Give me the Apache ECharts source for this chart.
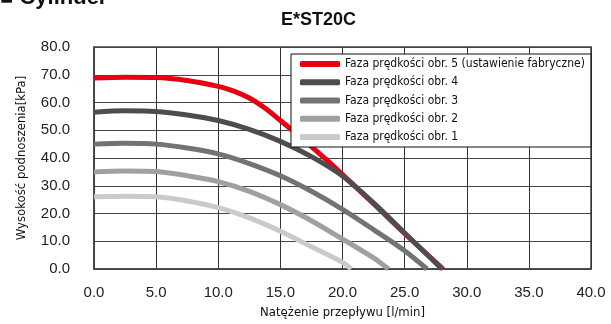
<!DOCTYPE html>
<html><head><meta charset="utf-8">
<script src="https://cdn.jsdelivr.net/npm/echarts@6/dist/echarts.min.js"></script>
<style>html,body{margin:0;padding:0;background:#fff}#c{width:611px;height:324px}</style>
</head><body><div id="c"></div>
<script>
const seriesNames = [
  'Faza prędkości obr. 5 (ustawienie fabryczne)',
  'Faza prędkości obr. 4',
  'Faza prędkości obr. 3',
  'Faza prędkości obr. 2',
  'Faza prędkości obr. 1'
];
const speed5 = [[0,68.8],[2.5,69.1],[5,69],[7.5,67.9],[10,65.8],[11.25,64.1],[12.5,61.6],[13.75,58.0],[15,53.5],[16.25,48.9],[17.5,44.1],[18.75,39.2],[20,34],[22.5,23.5],[25,12.8],[28.1,0]];
const speed4 = [[0,56.5],[2.5,57],[5,56.8],[7.5,55.5],[10,53.5],[12.5,50.3],[15,46],[17.5,40.5],[20,33.5],[22.5,23.8],[25,13],[28,0]];
const speed3 = [[0,45],[2.5,45.3],[5,45],[7.5,43.6],[10,41.5],[12.5,38],[15,33.6],[17.5,28],[20,21.5],[22.5,14.2],[25,6.6],[26.8,0]];
const speed2 = [[0,35],[2.5,35.3],[5,35.1],[7.5,33.6],[10,31.5],[12.5,28],[15,23.2],[17.5,17.4],[20,10.8],[22.5,4],[23.7,0]];
const speed1 = [[0,26],[2.5,26.2],[5,26],[7.5,24.5],[10,22.1],[12.5,18.4],[15,13.6],[17.5,8],[20,2.4],[20.7,0]];
const colors = ['#e60012','#4d4d4f','#727376','#9fa0a2','#c9caca'];
const allData = [speed5, speed4, speed3, speed2, speed1];
const narrow = '"DejaVu Sans Condensed", "Liberation Sans Narrow", Roboto, sans-serif';

const chart = echarts.init(document.getElementById('c'));
chart.setOption({
  animation:false,
  graphic:[
    {type:'text', left:0, top:-13, style:{text:'■ Cylinder', font:'bold 22px "Liberation Sans"', fill:'#111'}},
    {type:'text', left:281, top:11, style:{text:'E*ST20C', font:'bold 18px "Liberation Sans"', fill:'#111'}}
  ],
  grid:{left:94, right:20, top:47, bottom:52, show:true, borderColor:'#444', borderWidth:1.5},
  legend:{
    orient:'vertical', left:291, top:54,
    backgroundColor:'#fff', borderColor:'#111', borderWidth:1,
    padding:[1,6,1,9], itemGap:0, itemWidth:40, itemHeight:6, icon:'roundRect',
    textStyle:{fontFamily:narrow, fontSize:12, color:'#111', lineHeight:18.2},
    data:seriesNames
  },
  xAxis:{
    type:'value', min:0, max:40, interval:5,
    name:'Natężenie przepływu [l/min]', nameLocation:'middle', nameGap:37,
    nameTextStyle:{fontFamily:narrow, fontSize:13, color:'#111'},
    axisLine:{show:true, lineStyle:{color:'#444', width:1.5}},
    axisTick:{show:false},
    axisLabel:{fontFamily:'Liberation Sans', fontSize:15, color:'#222', margin:16, formatter:v=>v.toFixed(1)},
    splitLine:{show:true, lineStyle:{color:'#333', width:1}}
  },
  yAxis:{
    type:'value', min:0, max:80, interval:10,
    name:'Wysokość podnoszenia[kPa]', nameLocation:'middle', nameGap:66,
    nameTextStyle:{fontFamily:narrow, fontSize:13, color:'#111'},
    axisLine:{show:true, lineStyle:{color:'#444', width:1.5}},
    axisTick:{show:false},
    axisLabel:{fontFamily:'Liberation Sans', fontSize:15, color:'#222', margin:24, formatter:v=>v.toFixed(1)},
    splitLine:{show:true, lineStyle:{color:'#444', width:1}}
  },
  series: seriesNames.map((n,i)=>({
    name:n, type:'line', smooth:0.3, showSymbol:false, symbol:'none',
    data:allData[i], z: i===0 ? 2 : 3,
    lineStyle:{color:colors[i], width:5}, itemStyle:{color:colors[i]}
  }))
});
</script></body></html>
